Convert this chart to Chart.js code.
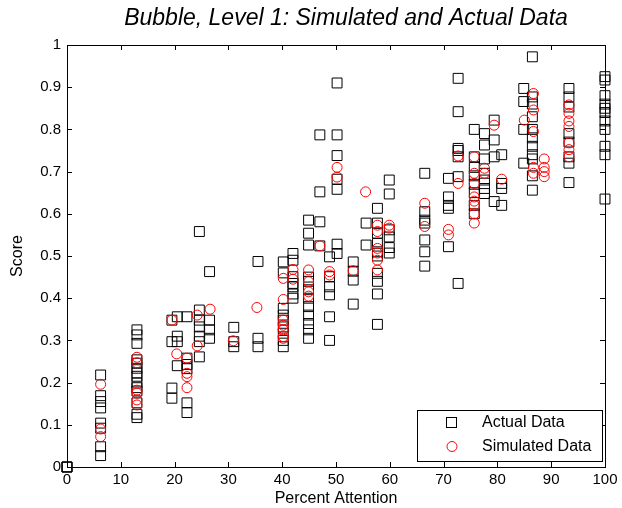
<!DOCTYPE html>
<html lang="en">
<head>
<meta charset="UTF-8">
<title>Bubble, Level 1: Simulated and Actual Data</title>
<style>
  html, body { margin: 0; padding: 0; background: #fff; }
</style>
</head>
<body>
<canvas id="myChart" width="622" height="508"></canvas>

<script src="https://cdn.jsdelivr.net/npm/chart.js"></script>
<script>
  // values, grouped by attention column
  const actualX = [
    0, 0, 0,
    6.25, 6.25, 6.25, 6.25, 6.25, 6.25, 6.25, 6.25,
    13, 13, 13, 13, 13, 13, 13, 13, 13, 13, 13, 13, 13, 13,
    19.5, 19.5, 19.5, 19.5,
    20.5, 20.5, 20.5, 20.5,
    22.3, 22.3, 22.3, 22.3, 22.3, 22.3,
    24.6, 24.6, 24.6, 24.6, 24.6, 24.6, 24.6,
    26.5, 26.5, 26.5, 26.5,
    31, 31, 31,
    35.5, 35.5, 35.5,
    40.2, 40.2, 40.2, 40.2, 40.2, 40.2, 40.2, 40.2, 40.2,
    42, 42, 42, 42, 42, 42, 42,
    44.9, 44.9, 44.9, 44.9, 44.9, 44.9, 44.9, 44.9, 44.9, 44.9, 44.9, 44.9,
    47, 47, 47, 47,
    48.8, 48.8, 48.8, 48.8, 48.8, 48.8,
    50.2, 50.2, 50.2, 50.2, 50.2, 50.2, 50.2,
    53.2, 53.2, 53.2, 53.2,
    55.6, 55.6,
    57.7, 57.7, 57.7, 57.7, 57.7, 57.7, 57.7, 57.7, 57.7, 57.7,
    59.9, 59.9, 59.9, 59.9, 59.9, 59.9,
    66.5, 66.5, 66.5, 66.5, 66.5, 66.5, 66.5,
    70.9, 70.9, 70.9, 70.9, 70.9,
    72.7, 72.7, 72.7, 72.7, 72.7, 72.7, 72.7,
    75.7, 75.7, 75.7, 75.7, 75.7, 75.7, 75.7, 75.7,
    77.6, 77.6, 77.6, 77.6, 77.6, 77.6, 77.6,
    79.4, 79.4, 79.4, 79.4,
    80.8, 80.8, 80.8, 80.8,
    84.9, 84.9, 84.9, 84.9,
    86.5, 86.5, 86.5, 86.5, 86.5, 86.5, 86.5, 86.5, 86.5, 86.5, 86.5,
    93.3, 93.3, 93.3, 93.3, 93.3, 93.3, 93.3, 93.3,
    100, 100, 100, 100, 100, 100, 100, 100, 100, 100, 100
  ];
  const actualY = [
    0, 0, 0,
    0.218, 0.169, 0.155, 0.14, 0.104, 0.092, 0.048, 0.027,
    0.325, 0.313, 0.293, 0.254, 0.246, 0.234, 0.223, 0.215, 0.199, 0.188, 0.18, 0.152, 0.125, 0.117,
    0.348, 0.297, 0.187, 0.163,
    0.356, 0.31, 0.297, 0.24,
    0.356, 0.258, 0.243, 0.233, 0.152, 0.129,
    0.558, 0.372, 0.348, 0.332, 0.31, 0.297, 0.261,
    0.463, 0.348, 0.325, 0.305,
    0.331, 0.297, 0.285,
    0.487, 0.305, 0.285,
    0.486, 0.46, 0.376, 0.36, 0.348, 0.332, 0.317, 0.30, 0.285,
    0.506, 0.49, 0.451, 0.435, 0.427, 0.41, 0.40,
    0.585, 0.554, 0.526, 0.45, 0.44, 0.42, 0.40, 0.38, 0.36, 0.34, 0.325, 0.305,
    0.787, 0.652, 0.581, 0.524,
    0.498, 0.451, 0.427, 0.408, 0.356, 0.30,
    0.91, 0.787, 0.738, 0.682, 0.658, 0.528, 0.506,
    0.486, 0.464, 0.443, 0.386,
    0.578, 0.526,
    0.613, 0.578, 0.554, 0.53, 0.51, 0.50, 0.459, 0.44, 0.41, 0.338,
    0.68, 0.647, 0.562, 0.545, 0.52, 0.507,
    0.696, 0.605, 0.585, 0.578, 0.538, 0.51, 0.476,
    0.684, 0.64, 0.62, 0.613, 0.522,
    0.921, 0.842, 0.755, 0.75, 0.735, 0.688, 0.435,
    0.8, 0.735, 0.71, 0.69, 0.67, 0.65, 0.62, 0.6,
    0.79, 0.763, 0.73, 0.696, 0.68, 0.66, 0.648,
    0.822, 0.775, 0.735, 0.629,
    0.74, 0.672, 0.66, 0.62,
    0.897, 0.866, 0.8, 0.72,
    0.972, 0.877, 0.86, 0.83, 0.8, 0.78, 0.76, 0.74, 0.73, 0.69, 0.656,
    0.897, 0.877, 0.853, 0.79, 0.77, 0.735, 0.72, 0.674,
    0.925, 0.917, 0.88, 0.86, 0.85, 0.84, 0.82, 0.8, 0.76, 0.74, 0.635
  ];

  const simulatedX = [
    6.25, 6.25, 6.25,
    13, 13, 13, 13, 13, 13,
    19.5, 20.4,
    22.3, 22.3, 22.3, 22.3,
    24.2, 24.2, 26.6, 30.9, 35.3,
    40.2, 40.2, 40.2, 40.2, 40.2, 40.2, 40.2,
    42, 42,
    44.9, 44.9, 44.9, 44.9,
    47, 48.8, 48.8, 50.2, 50.2, 53.2, 55.5,
    57.7, 57.7, 57.7, 57.7, 57.7, 57.7,
    59.9, 59.9, 66.5, 66.5, 70.9, 70.9, 72.7, 72.7,
    75.7, 75.7, 75.7, 75.7, 75.7, 75.7, 75.7, 75.7,
    77.6, 77.6, 79.4, 80.8, 85,
    86.7, 86.7, 86.7, 86.7, 86.7,
    88.7, 88.7, 88.7, 88.7,
    93.3, 93.3, 93.3, 93.3, 93.3, 93.3, 93.3
  ];
  const simulatedY = [
    0.196, 0.09, 0.072,
    0.26, 0.247, 0.182, 0.175, 0.159, 0.147,
    0.348, 0.268,
    0.258, 0.222, 0.214, 0.188,
    0.36, 0.287, 0.374, 0.299, 0.378,
    0.447, 0.397, 0.348, 0.336, 0.325, 0.309, 0.305,
    0.468, 0.445,
    0.467, 0.439, 0.415, 0.405,
    0.524, 0.463, 0.455, 0.71, 0.687, 0.465, 0.652,
    0.573, 0.558, 0.518, 0.507, 0.49, 0.467,
    0.573, 0.566, 0.625, 0.57, 0.563, 0.55, 0.737, 0.672,
    0.735, 0.696, 0.672, 0.64, 0.63, 0.62, 0.6, 0.578,
    0.708, 0.696, 0.81, 0.682, 0.822,
    0.885, 0.846, 0.795, 0.71, 0.696,
    0.73, 0.71, 0.70, 0.688,
    0.858, 0.838, 0.82, 0.807, 0.768, 0.752, 0.735
  ];

  const xTicks = [0, 10, 20, 30, 40, 50, 60, 70, 80, 90, 100];
  const yTicks = [0, 0.1, 0.2, 0.3, 0.4, 0.5, 0.6, 0.7, 0.8, 0.9, 1];
  const seriesNames = ['Actual Data', 'Simulated Data'];

  const FONT = "'Liberation Sans', Arial, Helvetica, sans-serif";

  function toPoints(xs, ys) {
    return xs.map((x, i) => ({x: x, y: ys[i]}));
  }

  // matlab style box with inward ticks on all four sides
  const axesBox = {
    id: 'axesBox',
    beforeDatasetsDraw(chart) {
      const {ctx, chartArea: a, scales} = chart;
      const len = 5;
      ctx.save();
      ctx.strokeStyle = '#000';
      ctx.lineWidth = 1;
      ctx.strokeRect(a.left + 0.5, a.top + 0.5, a.right - a.left, a.bottom - a.top);
      ctx.beginPath();
      xTicks.forEach(v => {
        const px = Math.round(scales.x.getPixelForValue(v)) + 0.5;
        ctx.moveTo(px, a.bottom);
        ctx.lineTo(px, a.bottom - len);
        ctx.moveTo(px, a.top);
        ctx.lineTo(px, a.top + len);
      });
      yTicks.forEach(v => {
        const py = Math.round(scales.y.getPixelForValue(v)) + 0.5;
        ctx.moveTo(a.left, py);
        ctx.lineTo(a.left + len, py);
        ctx.moveTo(a.right, py);
        ctx.lineTo(a.right - len, py);
      });
      ctx.stroke();
      ctx.restore();
    },
    afterDraw(chart) {
      const {ctx, chartArea: a} = chart;
      ctx.save();
      // title
      ctx.fillStyle = '#000';
      ctx.font = 'italic 23px ' + FONT;
      ctx.textAlign = 'center';
      ctx.textBaseline = 'middle';
      ctx.fillText('Bubble, Level 1: Simulated and Actual Data', (a.left + a.right) / 2 + 10, 19);

      // legend box in lower right corner
      const bx = 417.5, by = 410.5, bw = 185, bh = 51;
      ctx.fillStyle = '#fff';
      ctx.fillRect(bx, by, bw, bh);
      ctx.strokeStyle = '#000';
      ctx.lineWidth = 1;
      ctx.strokeRect(bx, by, bw, bh);

      ctx.strokeRect(446.5, 417.5, 10, 10);
      ctx.strokeStyle = 'rgb(255,0,0)';
      ctx.beginPath();
      ctx.arc(452, 446.5, 5, 0, Math.PI * 2);
      ctx.stroke();

      ctx.fillStyle = '#000';
      ctx.font = '16px ' + FONT;
      ctx.textAlign = 'left';
      ctx.fillText(seriesNames[0], 482, 423);
      ctx.fillText(seriesNames[1], 482, 447);
      ctx.restore();
    }
  };

  const ctx = document.getElementById('myChart');

  new Chart(ctx, {
    type: 'scatter',
    data: {
      datasets: [
        {
          label: seriesNames[0],
          data: toPoints(actualX, actualY),
          pointStyle: 'rect',
          pointRadius: 7,
          pointHoverRadius: 7,
          borderColor: '#000',
          backgroundColor: 'rgba(0,0,0,0)',
          borderWidth: 1,
          order: 2
        },
        {
          label: seriesNames[1],
          data: toPoints(simulatedX, simulatedY),
          pointStyle: 'circle',
          pointRadius: 5,
          pointHoverRadius: 5,
          borderColor: 'rgb(255,0,0)',
          backgroundColor: 'rgba(0,0,0,0)',
          borderWidth: 1,
          order: 1
        }
      ]
    },
    options: {
      responsive: false,
      animation: false,
      clip: false,
      layout: {
        padding: {top: 45, right: 17, left: 0, bottom: 0}
      },
      plugins: {
        legend: {display: false},
        tooltip: {enabled: false}
      },
      scales: {
        x: {
          type: 'linear',
          min: 0,
          max: 100,
          afterBuildTicks: scale => { scale.ticks = xTicks.map(v => ({value: v})); },
          afterFit: scale => { scale.height = 41; },
          grid: {display: false, drawTicks: false},
          border: {display: false},
          ticks: {
            color: '#000',
            padding: 4,
            maxRotation: 0,
            font: {family: FONT, size: 15},
            callback: v => String(v)
          },
          title: {
            display: true,
            text: 'Percent Attention',
            color: '#000',
            padding: {top: 0, bottom: 0},
            font: {family: FONT, size: 16}
          }
        },
        y: {
          type: 'linear',
          min: 0,
          max: 1,
          afterBuildTicks: scale => { scale.ticks = yTicks.map(v => ({value: v})); },
          afterFit: scale => { scale.width = 67; },
          grid: {display: false, drawTicks: false},
          border: {display: false},
          ticks: {
            color: '#000',
            padding: 6,
            font: {family: FONT, size: 15},
            callback: v => String(Math.round(v * 10) / 10)
          },
          title: {
            display: true,
            text: 'Score',
            color: '#000',
            padding: {top: 8, bottom: 0},
            font: {family: FONT, size: 16}
          }
        }
      }
    },
    plugins: [axesBox]
  });
</script>
</body>
</html>
